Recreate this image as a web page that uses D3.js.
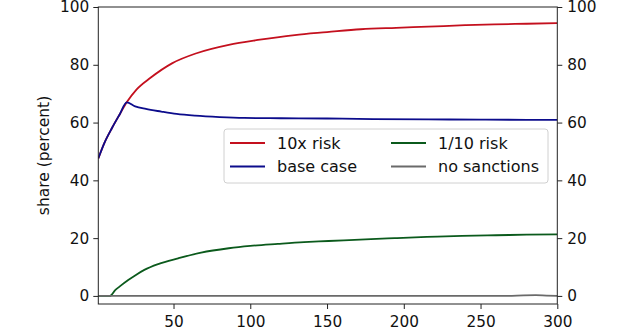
<!DOCTYPE html>
<html>
<head>
<meta charset="utf-8">
<script src="https://cdn.jsdelivr.net/npm/d3@7"></script>
<style>
  html, body { margin: 0; padding: 0; background: #fff; }
  svg { display: block; }
  text { font-family: "DejaVu Sans", sans-serif; fill: #111; }
</style>
</head>
<body>
<svg id="chart" width="640" height="334"></svg>
<script>
// Share over time under different risk assumptions
const xTicks = [50, 100, 150, 200, 250, 300];
const yTicks = [0, 20, 40, 60, 80, 100];

const riskHighX = [1, 5, 10, 15, 19.5, 26, 35, 49, 65, 86, 105, 129, 150, 172, 195, 216, 240, 259, 280, 300];
const riskHighY = [47.6, 53, 58.2, 62.9, 67, 71.5, 75.5, 80.5, 84, 86.9, 88.6, 90.3, 91.3, 92.3, 92.8, 93.2, 93.7, 94.0, 94.2, 94.4];

const baseX = [1, 5, 10, 15, 19.5, 25, 32, 42, 52, 64, 80, 96, 120, 150, 180, 216, 250, 280, 300];
const baseY = [47.6, 53, 58.2, 62.9, 67, 65.6, 64.7, 63.8, 63.0, 62.4, 61.9, 61.6, 61.5, 61.4, 61.2, 61.1, 61.0, 60.95, 60.9];

const riskLowX = [1, 8.6, 12, 15, 20.5, 25, 31, 40, 53, 68, 86, 100, 118, 135, 151, 175, 194, 215, 238, 260, 280, 300];
const riskLowY = [0, 0, 2, 3.3, 5.5, 7.1, 9.0, 11, 13, 15, 16.5, 17.3, 18.0, 18.6, 19.0, 19.6, 20.0, 20.4, 20.8, 21.0, 21.2, 21.3];

const noneX = [1, 268, 278, 286, 293, 300];
const noneY = [0, 0, 0.2, 0.25, 0.1, 0];

const seriesNames = ["10x risk", "base case", "1/10 risk", "no sanctions"];
const seriesColors = ["#c4101e", "#0c0c8c", "#0b5a1c", "#6a6a6a"];

const series = [
  { name: seriesNames[0], color: seriesColors[0], xs: riskHighX, ys: riskHighY },
  { name: seriesNames[1], color: seriesColors[1], xs: baseX, ys: baseY },
  { name: seriesNames[2], color: seriesColors[2], xs: riskLowX, ys: riskLowY },
  { name: seriesNames[3], color: seriesColors[3], xs: noneX, ys: noneY }
];

const svg = d3.select("#chart");
const plotLeft = 98.3, plotRight = 557.3, plotTop = 7, plotBottom = 304;

const x = d3.scaleLinear().domain([1, 300]).range([plotLeft, plotRight]);
const y = d3.scaleLinear().domain([-2.8, 100]).range([plotBottom, plotTop]);

svg.append("defs").append("clipPath").attr("id", "plotArea")
  .append("rect").attr("x", plotLeft).attr("y", plotTop)
  .attr("width", plotRight - plotLeft).attr("height", plotBottom - plotTop);

const line = d3.line()
  .x(d => x(d[0]))
  .y(d => y(d[1]))
  .curve(d3.curveMonotoneX);

const g = svg.append("g").attr("clip-path", "url(#plotArea)");
series.forEach(s => {
  g.append("path")
    .datum(s.xs.map((v, i) => [v, s.ys[i]]))
    .attr("d", line)
    .attr("fill", "none")
    .attr("stroke", s.color)
    .attr("stroke-width", 1.8)
    .attr("stroke-linejoin", "round");
});

// Axes
const tickFont = "15.3px";
const axisL = d3.axisLeft(y).tickValues(yTicks).tickSize(5).tickPadding(4).tickFormat(d3.format("d"));
const axisR = d3.axisRight(y).tickValues(yTicks).tickSize(5).tickPadding(5).tickFormat(d3.format("d"));
const axisB = d3.axisBottom(x).tickValues(xTicks).tickSize(5).tickPadding(7).tickFormat(d3.format("d"));

function styleAxis(sel) {
  sel.select(".domain").remove();
  sel.selectAll(".tick line").attr("stroke", "#222").attr("stroke-width", 1);
  sel.selectAll(".tick text").style("font-size", tickFont).style("font-family", "DejaVu Sans").attr("fill", "#111");
}

svg.append("g").attr("transform", `translate(${plotLeft},0)`).call(axisL).call(styleAxis);
svg.append("g").attr("transform", `translate(${plotRight},0)`).call(axisR).call(styleAxis);
svg.append("g").attr("transform", `translate(0,${plotBottom})`).call(axisB).call(styleAxis);

// Frame
svg.append("rect")
  .attr("x", plotLeft).attr("y", plotTop)
  .attr("width", plotRight - plotLeft).attr("height", plotBottom - plotTop)
  .attr("fill", "none").attr("stroke", "#222").attr("stroke-width", 1);

// Y axis title
svg.append("text")
  .attr("transform", `translate(44,${(plotTop + plotBottom) / 2}) rotate(-90)`)
  .attr("text-anchor", "middle")
  .attr("dominant-baseline", "central")
  .style("font-size", "15.5px")
  .text("share (percent)");

// Legend
const lg = svg.append("g");
lg.append("rect")
  .attr("x", 224).attr("y", 129)
  .attr("width", 324).attr("height", 54)
  .attr("rx", 3)
  .attr("fill", "#fff").attr("fill-opacity", 0.85)
  .attr("stroke", "#d0d0d0").attr("stroke-width", 1);

const cols = [230, 391];
const rows = [143, 166.5];
series.forEach((s, i) => {
  const cx = cols[Math.floor(i / 2)];
  const cy = rows[i % 2];
  lg.append("line")
    .attr("x1", cx).attr("x2", cx + 35)
    .attr("y1", cy).attr("y2", cy)
    .attr("stroke", s.color).attr("stroke-width", 1.8);
  lg.append("text")
    .attr("x", cx + 47).attr("y", cy)
    .attr("dominant-baseline", "central")
    .style("font-size", "16px")
    .text(s.name);
});
</script>
</body>
</html>
